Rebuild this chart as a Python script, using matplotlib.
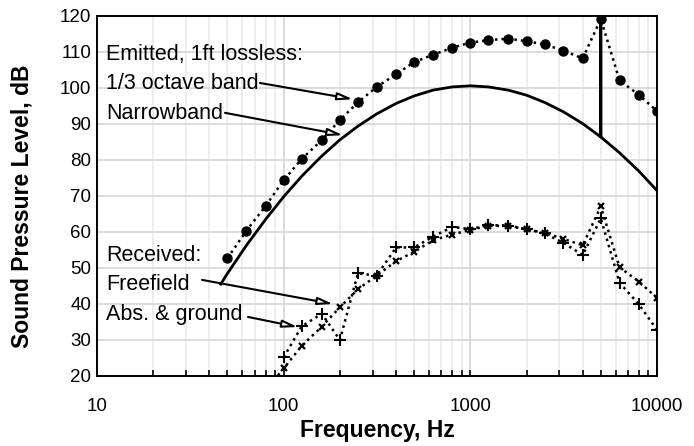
import matplotlib
matplotlib.use("Agg")
import matplotlib.pyplot as plt
from matplotlib.ticker import FixedLocator, NullFormatter, FixedFormatter

plt.rcParams['font.family'] = ['Liberation Sans', 'DejaVu Sans']

# ---- data ----
freq_third = [50, 63, 80, 100, 125, 160, 200, 250, 315, 400, 500, 630, 800,
              1000, 1250, 1600, 2000, 2500, 3150, 4000, 5000, 6300, 8000, 10000]
emitted_third = [52.7, 60.3, 67.2, 74.4, 80.3, 85.5, 91.1, 96.0, 100.3, 103.8,
                 107.2, 109.2, 111.2, 112.6, 113.3, 113.7, 113.0, 112.1, 110.4,
                 108.2, 119.2, 102.1, 98.1, 93.6]

nb_freq = [46, 50, 63, 80, 100, 125, 160, 200, 250, 315, 400, 500, 630, 800,
           1000, 1250, 1600, 2000, 2500, 3150, 4000, 5000, 5000, 5000, 6300,
           8000, 10000]
nb_spl = [45.5, 48.5, 56.2, 63.5, 69.8, 75.5, 81.1, 85.6, 89.4, 92.8, 95.7,
          97.8, 99.4, 100.3, 100.6, 100.3, 99.4, 98.0, 96.0, 93.4, 90.1, 86.4,
          118.9, 86.4, 82.0, 76.9, 71.5]

ff_freq = [80, 100, 125, 160, 200, 250, 315, 400, 500, 630, 800, 1000, 1250,
           1600, 2000, 2500, 3150, 4000, 5000, 6300, 8000, 10000]
ff_spl = [16.0, 22.1, 28.4, 33.7, 39.1, 44.1, 47.9, 51.9, 54.5, 57.7, 59.3,
          60.6, 61.7, 61.7, 60.7, 59.8, 58.1, 56.3, 67.1, 50.2, 46.2, 41.7]

ag_freq = [100, 125, 160, 200, 250, 315, 400, 500, 630, 800, 1000, 1250, 1600,
           2000, 2500, 3150, 4000, 5000, 6300, 8000, 10000]
ag_spl = [25.2, 33.8, 37.3, 30.0, 48.5, 47.9, 55.7, 55.7, 58.7, 61.4, 60.8,
          61.9, 61.8, 60.8, 59.6, 57.0, 53.6, 63.8, 45.9, 39.9, 32.8]

xticks = [10, 100, 1000, 10000]
xtick_labels = ["10", "100", "1000", "10000"]
yticks = [20, 30, 40, 50, 60, 70, 80, 90, 100, 110, 120]

# ---- figure ----
fig = plt.figure(figsize=(6.94, 4.46), dpi=100)
ax = fig.add_axes([97/694, 1-376/446, 560/694, 360/446])
ax.set_xscale('log')
ax.set_xlim(10, 10000)
ax.set_ylim(20, 120)

minor = [m * 10**e for e in range(1, 4) for m in range(2, 10)]
ax.xaxis.set_major_locator(FixedLocator(xticks))
ax.xaxis.set_major_formatter(FixedFormatter(xtick_labels))
ax.xaxis.set_minor_locator(FixedLocator(minor))
ax.xaxis.set_minor_formatter(NullFormatter())
ax.yaxis.set_major_locator(FixedLocator(yticks))

ax.grid(True, which='major', axis='both', color='#d9d9d9', lw=1.3, zorder=0)
ax.grid(True, which='minor', axis='x', color='#ececec', lw=1.3, zorder=0)
ax.set_axisbelow(True)

ax.tick_params(axis='x', which='both', direction='in', length=4.5, width=1.2,
               labelsize=13.5, pad=16)
ax.tick_params(axis='y', which='both', length=0, labelsize=13.5, pad=4)
for s in ax.spines.values():
    s.set_linewidth(1.4)
    s.set_color('black')

dot = (0, (1, 1.6))
ax.plot(nb_freq, nb_spl, color='black', lw=2.0, zorder=3)
ax.plot(freq_third, emitted_third, color='black', lw=1.8, ls=dot,
        marker='o', ms=6.5, zorder=4)
ax.plot(ff_freq, ff_spl, color='black', lw=1.8, ls=dot,
        marker='x', ms=4, mew=1.6, zorder=4)
ax.plot(ag_freq, ag_spl, color='black', lw=1.8, ls=dot,
        marker='+', ms=8, mew=1.5, zorder=4)

ax.set_xlabel("Frequency, Hz", fontsize=16.5, fontweight='bold')
ax.set_ylabel("Sound Pressure Level, dB", fontsize=16.5, fontweight='bold')
ax.xaxis.set_label_coords(0.5, (376-431)/360)
ax.yaxis.set_label_coords((22-97)/560, (376-206)/360)
ax.xaxis.label.set_va('center')
ax.yaxis.label.set_va('center')

# ---- annotations ----
tx = 11.24
tsize = 15.5
ax.text(tx, 107.9, "Emitted, 1ft lossless:", fontsize=tsize, va='baseline', zorder=5)
ax.text(tx, 99.6, "1/3 octave band", fontsize=tsize, va='baseline', zorder=5)
ax.text(tx, 91.5, "Narrowband", fontsize=tsize, va='baseline', zorder=5)
ax.text(tx, 51.9, "Received:", fontsize=tsize, va='baseline', zorder=5)
ax.text(tx, 43.75, "Freefield", fontsize=tsize, va='baseline', zorder=5)
ax.text(tx, 35.6, "Abs. & ground", fontsize=tsize, va='baseline', zorder=5)

aprops = dict(arrowstyle='-|>,head_length=0.9,head_width=0.22', color='black',
              lw=1.5, fc='white', shrinkA=0, shrinkB=0)
ax.annotate("", xy=(235, 96.9), xytext=(74.6, 101.4), arrowprops=aprops, zorder=5)
ax.annotate("", xy=(208, 86.9), xytext=(48.5, 93.1), arrowprops=aprops, zorder=5)
ax.annotate("", xy=(184, 40.0), xytext=(36.5, 46.7), arrowprops=aprops, zorder=5)
ax.annotate("", xy=(119, 33.6), xytext=(64.4, 36.4), arrowprops=aprops, zorder=5)

fig.savefig("out.png", dpi=100)
